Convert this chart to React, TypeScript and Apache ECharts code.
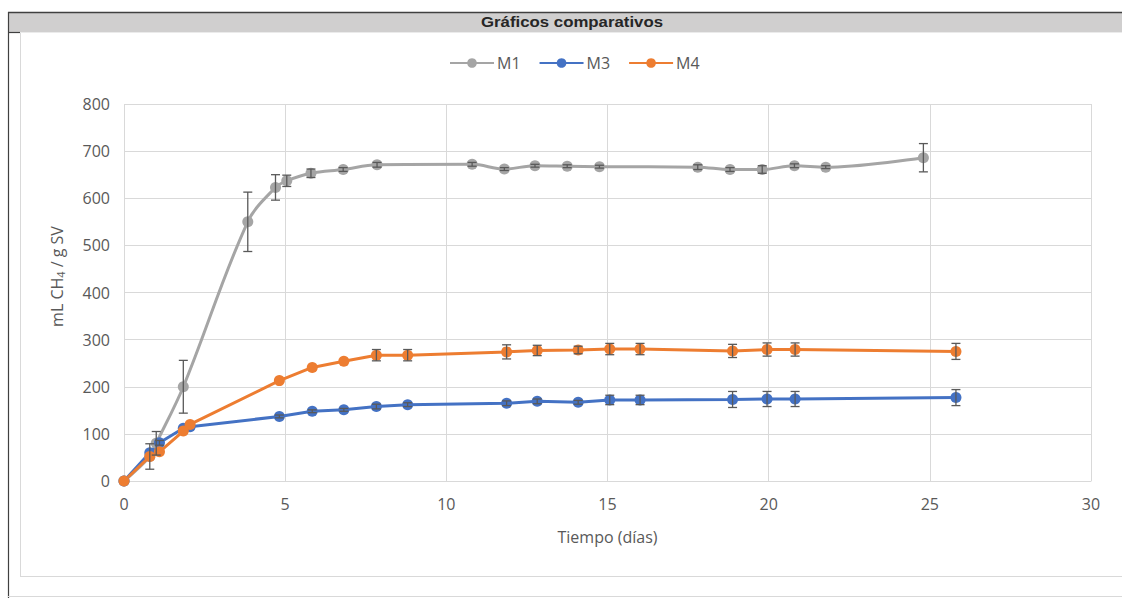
import React, { useEffect, useRef } from "react";
import * as echarts from "echarts";

const titleText = "Gráficos comparativos";
const xAxisName = "Tiempo (días)";
const seriesNames = ["M1", "M3", "M4"];
const colors = ["#A5A5A5", "#4472C4", "#ED7D31"];

const m1Days = [0, 0.8, 1.0, 1.84, 3.84, 4.7, 5.05, 5.8, 6.8, 7.85, 10.8, 11.8, 12.75, 13.75, 14.75, 17.8, 18.8, 19.8, 20.8, 21.77, 24.8];
const m1Values = [0, 52, 80, 200, 550, 623, 637, 653, 661, 671, 672, 662, 669, 668, 667, 666, 661, 661, 669, 666, 686];
const m1Errors = [0, 27, 25, 56, 63, 27, 12, 9, 4, 5, 4, 3, 3, 3, 3, 5, 4, 8, 4, 3, 30];

const m34Days = [0, 0.8, 1.1, 1.84, 2.05, 4.82, 5.84, 6.82, 7.83, 8.8, 11.87, 12.82, 14.09, 15.07, 16.01, 18.88, 19.95, 20.82, 25.81];
const m3Values = [0, 60, 81, 112, 115, 137, 148, 151, 158, 162, 165, 169, 167, 172, 172, 173, 174, 174, 177];
const m3Errors = [0, 0, 5, 0, 0, 3, 3, 3, 5, 4, 5, 5, 4, 10, 10, 17, 16, 16, 17];
const m4Values = [0, 52, 62, 106, 120, 213, 241, 254, 267, 267, 274, 277, 278, 280, 280, 276, 279, 279, 275];
const m4Errors = [0, 0, 0, 0, 0, 0, 0, 0, 12, 12, 15, 11, 8, 12, 12, 14, 14, 14, 17];

const FONT = "'Open Sans', 'Noto Sans', sans-serif";
const TXT = "#595959";

function pairs(xs: number[], ys: number[]) {
  return xs.map((x, i) => [x, ys[i]]);
}
function errData(xs: number[], ys: number[], es: number[]) {
  return xs.map((x, i) => [x, ys[i] - es[i], ys[i] + es[i]]).filter((_, i) => es[i] > 0);
}

const errorRender = (params: any, api: any) => {
  const x = api.value(0);
  const lo = api.coord([x, api.value(1)]);
  const hi = api.coord([x, api.value(2)]);
  const w = 4.5;
  const style = { stroke: "#595959", lineWidth: 1.3 };
  return {
    type: "group",
    children: [
      { type: "line", shape: { x1: lo[0], y1: lo[1], x2: hi[0], y2: hi[1] }, style },
      { type: "line", shape: { x1: lo[0] - w, y1: lo[1], x2: lo[0] + w, y2: lo[1] }, style },
      { type: "line", shape: { x1: hi[0] - w, y1: hi[1], x2: hi[0] + w, y2: hi[1] }, style },
    ],
  };
};

export default function App() {
  const ref = useRef<HTMLDivElement>(null);
  useEffect(() => {
    if (!ref.current) return;
    const chart = echarts.init(ref.current, undefined, { renderer: "svg" });
    const lineSeries = [
      { name: seriesNames[0], data: pairs(m1Days, m1Values), smooth: 0.35, color: colors[0] },
      { name: seriesNames[1], data: pairs(m34Days, m3Values), smooth: false, color: colors[1] },
      { name: seriesNames[2], data: pairs(m34Days, m4Values), smooth: false, color: colors[2] },
    ].map((s) => ({
      type: "line",
      name: s.name,
      data: s.data,
      smooth: s.smooth,
      symbol: "circle",
      symbolSize: 11,
      showSymbol: true,
      lineStyle: { width: 3, color: s.color },
      itemStyle: { color: s.color },
      z: 3,
    }));
    const errSeries = [
      errData(m1Days, m1Values, m1Errors),
      errData(m34Days, m3Values, m3Errors),
      errData(m34Days, m4Values, m4Errors),
    ].map((d) => ({
      type: "custom",
      data: d,
      renderItem: errorRender,
      encode: { x: 0, y: [1, 2] },
      z: 5,
      silent: true,
    }));

    chart.setOption({
      animation: false,
      backgroundColor: "#ffffff",
      textStyle: { fontFamily: FONT },
      graphic: [
        { type: "rect", shape: { x: 8, y: 12, width: 1130, height: 20 }, style: { fill: "#d0cfcf" }, z: 0 },
        { type: "line", shape: { x1: 8, y1: 12.5, x2: 1122, y2: 12.5 }, style: { stroke: "#404040", lineWidth: 1.5 } },
        { type: "line", shape: { x1: 8, y1: 32.5, x2: 1122, y2: 32.5 }, style: { stroke: "#ebebeb", lineWidth: 1 } },
        { type: "line", shape: { x1: 8.5, y1: 12, x2: 8.5, y2: 598 }, style: { stroke: "#404040", lineWidth: 1.2 } },
        { type: "line", shape: { x1: 8, y1: 32.5, x2: 20, y2: 32.5 }, style: { stroke: "#404040", lineWidth: 1.2 } },
        { type: "line", shape: { x1: 20.5, y1: 33, x2: 20.5, y2: 577 }, style: { stroke: "#d9d9d9", lineWidth: 1 } },
        { type: "line", shape: { x1: 20, y1: 576.5, x2: 1122, y2: 576.5 }, style: { stroke: "#d9d9d9", lineWidth: 1 } },
        { type: "line", shape: { x1: 8, y1: 596.5, x2: 1122, y2: 596.5 }, style: { stroke: "#d9d9d9", lineWidth: 1 } },
        {
          type: "text",
          x: 572,
          y: 22,
          scaleX: 1.2,
          style: {
            text: titleText,
            fontFamily: "'Liberation Sans Narrow', 'Arial Narrow', Arial, sans-serif",
            fontWeight: "bold",
            fontSize: 14,
            fill: "#262626",
            align: "center",
            verticalAlign: "middle",
          },
          z: 10,
        },
      ],
      legend: {
        data: seriesNames,
        left: 444,
        top: 50,
        itemWidth: 44,
        itemHeight: 12,
        itemGap: 18,
        textStyle: { fontSize: 16, color: TXT, fontFamily: FONT, padding: [0, 0, 0, -2] },
      },
      grid: { left: 124, right: 31, top: 104, bottom: 117, containLabel: false },
      xAxis: {
        type: "value",
        min: 0,
        max: 30,
        interval: 5,
        name: xAxisName,
        nameLocation: "middle",
        nameGap: 48,
        nameTextStyle: { fontSize: 16, color: TXT, fontFamily: FONT },
        axisLine: { show: true, lineStyle: { color: "#d9d9d9" } },
        axisTick: { show: false },
        axisLabel: { fontSize: 16, color: TXT, margin: 15, fontFamily: FONT },
        splitLine: { show: true, lineStyle: { color: "#d9d9d9" } },
      },
      yAxis: {
        type: "value",
        min: 0,
        max: 800,
        interval: 100,
        name: "mL CH{sub|4} / g SV",
        nameLocation: "middle",
        nameGap: 58,
        nameTextStyle: {
          fontSize: 16,
          color: TXT,
          fontFamily: FONT,
          padding: [0, 0, 0, 32],
          rich: {
            sub: { fontSize: 11, color: TXT, fontFamily: FONT, padding: [8, 0, 0, 0] },
          },
        },
        axisLine: { show: false },
        axisTick: { show: false },
        axisLabel: { fontSize: 16, color: TXT, margin: 14, fontFamily: FONT },
        splitLine: { show: true, lineStyle: { color: "#d9d9d9" } },
      },
      series: [...lineSeries, ...errSeries],
    });
    return () => chart.dispose();
  }, []);
  return <div ref={ref} style={{ position: "fixed", left: 0, top: 0, width: 1122, height: 598 }} />;
}
